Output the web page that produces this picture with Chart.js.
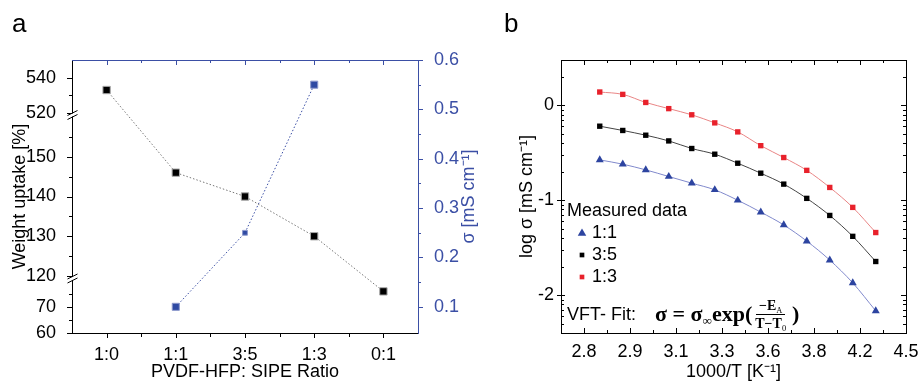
<!DOCTYPE html>
<html>
<head>
<meta charset="utf-8">
<title>Uptake and conductivity</title>
<script src="https://cdn.jsdelivr.net/npm/chart.js@4.4.1/dist/chart.umd.min.js"></script>
<style>
  body { margin: 0; background: #fff; }
  #wrap { position: relative; width: 921px; height: 381px; overflow: hidden;
          font-family: 'Liberation Sans', Arial, sans-serif; color: #000; }
  canvas { position: absolute; top: 0; }
  #chartA { left: 0; }
  #chartB { left: 485px; }
  .letter { position: absolute; top: 8px; font-size: 26px; line-height: 30px; }
  .note { position: absolute; font-size: 18px; line-height: 20px; white-space: nowrap; }
  #vft { position: absolute; left: 655px; top: 298px; height: 32px; display: flex; align-items: center;
         font: bold 22px 'Liberation Serif', 'DejaVu Serif', serif; white-space: nowrap; }
  #vft sub { font-size: 0.6em; vertical-align: -0.3em; line-height: 0; font-weight: normal; }
  .frac { display: inline-flex; flex-direction: column; align-items: center;
          font-size: 14px; margin: 0 6px 0 3px; line-height: 15px; }
  .frac .num { border-bottom: 1px solid #000; padding: 0 3px 1px; }
  .frac .den { padding-top: 1px; }
</style>
</head>
<body>
<div id="wrap">
  <canvas id="chartA" width="485" height="381"></canvas>
  <canvas id="chartB" width="436" height="381"></canvas>
  <div class="letter" style="left:12px;">a</div>
  <div class="letter" style="left:504px;">b</div>
  <div class="note" style="left:567px; top:304px;">VFT- Fit:</div>
  <div id="vft">
    <span>σ = σ<sub>∞</sub>exp(</span>
    <span class="frac"><span class="num">−E<sub>A</sub></span><span class="den">T−T<sub>0</sub></span></span>
    <span>)</span>
  </div>
</div>
<script>
// ---- panel a: weight uptake and conductivity vs. blend ratio
const ratios = ['1:0', '1:1', '3:5', '1:3', '0:1'];
const uptake = [533, 146, 140, 130, 76];
const conductivity = [null, 0.10, 0.25, 0.55, null];
const uptakeTicks = [60, 70, 120, 130, 140, 150, 520, 540];
const uptakeMinorTicks = [65, 75, 125, 135, 145, 155, 530];
const sigmaTicks = [0.1, 0.2, 0.3, 0.4, 0.5, 0.6];
const sigmaMinorTicks = [0.15, 0.25, 0.35, 0.45, 0.55];

// ---- panel b: log conductivity vs. temperature (°C), VFT behaviour
const tempsC = [80, 70, 60, 50, 40, 30, 20, 10, 0, -10, -20, -30, -40];
const log11 = [-0.575, -0.62, -0.68, -0.75, -0.82, -0.89, -1.0, -1.125, -1.26, -1.43, -1.63, -1.87, -2.165];
const log35 = [-0.22, -0.265, -0.315, -0.375, -0.455, -0.515, -0.61, -0.715, -0.83, -0.98, -1.16, -1.38, -1.645];
const log13 = [0.14, 0.115, 0.03, -0.035, -0.10, -0.185, -0.28, -0.425, -0.55, -0.685, -0.865, -1.075, -1.34];
const invTTickTemps = [360, 340, 320, 300, 280, 260, 240, 220];   // K
const invTTickLabels = ['2.8', '2.9', '3.1', '3.3', '3.6', '3.8', '4.2', '4.5'];
const logTicks = [0, -1, -2];
const logTickLabels = ['0', '-1', '-2'];

const BLUE = '#3b4fa5';
const FONT = "18px 'Liberation Sans', Arial, sans-serif";
Chart.defaults.font.family = "'Liberation Sans', Arial, sans-serif";
Chart.defaults.font.size = 18;
Chart.defaults.color = '#000';

// uptake axis is cut into three pieces: value range -> fraction of axis height
const uptakeSegments = [
  { min: 60, max: 80, from: 0, to: 0.1905 },
  { min: 120, max: 160, from: 0.2088, to: 0.7912 },
  { min: 520, max: 550, from: 0.8059, to: 1 }
];

class BrokenLinearScale extends Chart.LinearScale {
  static id = 'brokenLinear';
  static defaults = {};
  getPixelForValue(value) {
    if (value === null || value === undefined) return NaN;
    let seg = uptakeSegments[uptakeSegments.length - 1];
    for (const s of uptakeSegments) { if (value <= s.max) { seg = s; break; } }
    const f = seg.from + (value - seg.min) / (seg.max - seg.min) * (seg.to - seg.from);
    return this.bottom - f * (this.bottom - this.top);
  }
  getValueForPixel(pixel) {
    const f = (this.bottom - pixel) / (this.bottom - this.top);
    const seg = uptakeSegments.find(s => f <= s.to) || uptakeSegments[uptakeSegments.length - 1];
    return seg.min + (f - seg.from) / (seg.to - seg.from) * (seg.max - seg.min);
  }
}
Chart.register(BrokenLinearScale);

function tickList(major, labels, minor) {
  return major.map((v, i) => ({ value: v, text: labels[i] }))
    .concat(minor.map(v => ({ value: v, minor: true })));
}
const tickText = (v, i, ticks) => ticks[i].text || '';

// short tick marks on one edge of the plot frame; len = [outside, inside]
function strokeTicks(chart, scaleId, edge, majorLen, minorLen, color, extra) {
  const scale = chart.scales[scaleId];
  const a = chart.chartArea;
  const ctx = chart.ctx;
  const items = scale.ticks.map(t => ({ p: scale.getPixelForValue(t.value), minor: !!t.minor }));
  (extra || []).forEach(v => items.push({ p: scale.getPixelForValue(v), minor: true }));
  ctx.save();
  ctx.strokeStyle = color;
  ctx.lineWidth = 1;
  ctx.beginPath();
  for (const it of items) {
    const [o, n] = it.minor ? minorLen : majorLen;
    const p = Math.round(it.p) + 0.5;
    if (edge === 'bottom') { ctx.moveTo(p, a.bottom + o); ctx.lineTo(p, a.bottom - n); }
    else if (edge === 'top') { ctx.moveTo(p, a.top - o); ctx.lineTo(p, a.top + n); }
    else if (edge === 'left') { ctx.moveTo(a.left - o, p); ctx.lineTo(a.left + n, p); }
    else { ctx.moveTo(a.right + o, p); ctx.lineTo(a.right - n, p); }
  }
  ctx.stroke();
  ctx.restore();
}

function hLine(ctx, x0, x1, y, color) {
  ctx.save();
  ctx.strokeStyle = color; ctx.lineWidth = 1;
  ctx.beginPath(); ctx.moveTo(x0, Math.round(y) + 0.5); ctx.lineTo(x1, Math.round(y) + 0.5); ctx.stroke();
  ctx.restore();
}
function vLine(ctx, x, y0, y1, color) {
  ctx.save();
  ctx.strokeStyle = color; ctx.lineWidth = 1;
  ctx.beginPath(); ctx.moveTo(Math.round(x) - 0.5, y0); ctx.lineTo(Math.round(x) - 0.5, y1); ctx.stroke();
  ctx.restore();
}

const frameA = {
  id: 'frameA',
  afterDraw(chart) {
    const ctx = chart.ctx;
    const a = chart.chartArea;
    const y = chart.scales.y;
    hLine(ctx, a.left, a.right + 1, a.top, BLUE);
    strokeTicks(chart, 'x', 'bottom', [5, 0], [4, 0], '#000', [0.5, 1.5, 2.5, 3.5]);
    strokeTicks(chart, 'x', 'top', [0, 5], [0, 3], BLUE, [0.5, 1.5, 2.5, 3.5]);
    strokeTicks(chart, 'y', 'left', [5, 0], [3, 0], '#000');
    strokeTicks(chart, 'y1', 'right', [5, 0], [3, 0], BLUE);

    // break marks on the uptake axis
    const x = Math.round(a.left) + 0.5;
    [(y.getPixelForValue(80) + y.getPixelForValue(120)) / 2,
     (y.getPixelForValue(160) + y.getPixelForValue(520)) / 2].forEach(yc => {
      ctx.save();
      ctx.fillStyle = '#fff';
      ctx.beginPath();
      ctx.moveTo(x - 6, yc + 1.5); ctx.lineTo(x + 6, yc - 4.5);
      ctx.lineTo(x + 6, yc - 1.5); ctx.lineTo(x - 6, yc + 4.5);
      ctx.closePath(); ctx.fill();
      ctx.strokeStyle = '#000'; ctx.lineWidth = 1;
      ctx.beginPath();
      ctx.moveTo(x - 5, yc + 0.5); ctx.lineTo(x + 5, yc - 4.5);
      ctx.moveTo(x - 5, yc + 4.5); ctx.lineTo(x + 5, yc - 0.5);
      ctx.stroke();
      ctx.restore();
    });

    // conductivity axis title, reading upwards
    ctx.save();
    ctx.translate(chart.width - 16, (a.top + a.bottom) / 2);
    ctx.rotate(-Math.PI / 2);
    ctx.fillStyle = BLUE;
    ctx.font = FONT;
    ctx.textAlign = 'center';
    ctx.textBaseline = 'middle';
    ctx.fillText('σ [mS cm⁻¹]', 0, 0);
    ctx.restore();
  }
};

new Chart(document.getElementById('chartA'), {
  type: 'line',
  data: {
    labels: ratios,
    datasets: [
      {
        label: 'Weight uptake',
        data: uptake,
        yAxisID: 'y',
        borderColor: '#777',
        borderWidth: 1,
        borderDash: [1.5, 2],
        pointStyle: 'rect',
        pointRadius: 5.2,
        pointBackgroundColor: '#000',
        pointBorderColor: '#aaa',
        pointBorderWidth: 1
      },
      {
        label: 'σ',
        data: conductivity,
        yAxisID: 'y1',
        borderColor: BLUE,
        borderWidth: 1,
        borderDash: [1.5, 2],
        pointStyle: 'rect',
        pointRadius: [0, 5, 3.4, 5, 0],
        pointBackgroundColor: '#2f4aa3',
        pointBorderColor: '#8c98cc',
        pointBorderWidth: 1
      }
    ]
  },
  options: {
    responsive: false,
    animation: false,
    layout: { padding: { top: 60 } },
    plugins: { legend: { display: false }, tooltip: { enabled: false } },
    scales: {
      x: {
        type: 'category',
        position: 'bottom',
        offset: true,
        grid: { display: false },
        border: { color: '#000', width: 1 },
        ticks: { padding: 3, maxRotation: 0, autoSkip: false },
        title: { display: true, text: 'PVDF-HFP: SIPE Ratio', padding: { top: 0, bottom: -2 } },
        afterFit: s => { s.height = 48; }
      },
      y: {
        type: 'brokenLinear',
        position: 'left',
        min: 60,
        max: 550,
        grid: { display: false },
        border: { color: '#000', width: 1 },
        ticks: { padding: 8, autoSkip: false, callback: tickText },
        afterBuildTicks: s => { s.ticks = tickList(uptakeTicks, uptakeTicks.map(String), uptakeMinorTicks); },
        title: { display: true, text: 'Weight uptake [%]', padding: { top: 9, bottom: 0 } },
        afterFit: s => { s.width = 72; }
      },
      y1: {
        type: 'linear',
        position: 'right',
        min: 0.047,
        max: 0.6,
        grid: { display: false },
        border: { color: BLUE, width: 1 },
        ticks: { color: BLUE, padding: 8, autoSkip: false, callback: tickText },
        afterBuildTicks: s => { s.ticks = tickList(sigmaTicks, sigmaTicks.map(v => v.toFixed(1)), sigmaMinorTicks); },
        afterFit: s => { s.width = 67; }
      }
    }
  },
  plugins: [frameA]
});

// ---- panel b
const legendRows = [
  { text: '1:1', style: 'triangle', color: '#2d44a0' },
  { text: '3:5', style: 'rect', color: '#000' },
  { text: '1:3', style: 'rect', color: '#e8212b' }
];

function marker(ctx, style, x, y, r, color) {
  ctx.fillStyle = color;
  ctx.beginPath();
  if (style === 'triangle') {
    ctx.moveTo(x, y - r);
    ctx.lineTo(x + r * 0.95, y + r * 0.6);
    ctx.lineTo(x - r * 0.95, y + r * 0.6);
    ctx.closePath();
  } else {
    const s = r * Math.SQRT1_2;
    ctx.rect(x - s, y - s, 2 * s, 2 * s);
  }
  ctx.fill();
}

const frameB = {
  id: 'frameB',
  afterDraw(chart) {
    const ctx = chart.ctx;
    const a = chart.chartArea;
    const ys = chart.scales.y;
    hLine(ctx, a.left, a.right + 1, a.top, '#000');
    vLine(ctx, a.right + 1, a.top, a.bottom + 1, '#000');
    strokeTicks(chart, 'x', 'bottom', [0, 5], [0, 3], '#000');
    strokeTicks(chart, 'x', 'top', [0, 5], [0, 3], '#000');
    strokeTicks(chart, 'y', 'left', [4, 4], [0, 3], '#000');
    strokeTicks(chart, 'y', 'right', [0, 5], [0, 3], '#000');

    ctx.save();
    ctx.font = FONT;
    ctx.fillStyle = '#000';
    ctx.textBaseline = 'middle';

    // log σ tick labels, right-aligned against the frame
    ctx.textAlign = 'right';
    logTicks.forEach((v, i) => ctx.fillText(logTickLabels[i], a.left - 7, ys.getPixelForValue(v)));

    // measured-data key inside the plot
    ctx.textAlign = 'left';
    ctx.fillText('Measured data', a.left + 6, 211);
    legendRows.forEach((row, i) => {
      const yy = 233 + i * 22;
      marker(ctx, row.style, a.left + 21, yy, row.style === 'triangle' ? 4.5 : 3.3, row.color);
      ctx.fillStyle = '#000';
      ctx.fillText(row.text, a.left + 31, yy);
    });
    ctx.restore();
  }
};

const seriesB = [
  { label: '1:1', values: log11, style: 'triangle', point: '#2d44a0', line: '#8089cc', radius: 4.6 },
  { label: '3:5', values: log35, style: 'rect', point: '#000', line: '#444', radius: 3.8 },
  { label: '1:3', values: log13, style: 'rect', point: '#e8212b', line: '#e98585', radius: 3.8 }
];

const logMinorTicks = [];
[-3, -2, -1, 0].forEach(d => {
  for (let k = 2; k <= 9; k++) logMinorTicks.push(d + Math.log10(k));
});

new Chart(document.getElementById('chartB'), {
  type: 'scatter',
  data: {
    datasets: seriesB.map(s => ({
      label: s.label,
      data: tempsC.map((t, i) => ({ x: t + 273.15, y: s.values[i] })),
      showLine: true,
      cubicInterpolationMode: 'monotone',
      borderColor: s.line,
      borderWidth: 1,
      pointStyle: s.style,
      pointRadius: s.radius,
      pointBackgroundColor: s.point,
      pointBorderColor: s.point,
      pointBorderWidth: 0
    }))
  },
  options: {
    responsive: false,
    animation: false,
    layout: { padding: { top: 60, right: 15 } },
    plugins: { legend: { display: false }, tooltip: { enabled: false } },
    scales: {
      x: {
        type: 'linear',
        position: 'bottom',
        reverse: true,
        min: 220,
        max: 370,
        grid: { display: false },
        border: { color: '#000', width: 1 },
        ticks: { padding: 0, maxRotation: 0, autoSkip: false, callback: tickText },
        afterBuildTicks: s => {
          s.ticks = tickList(invTTickTemps, invTTickLabels, [350, 330, 310, 290, 270, 250, 230]);
        },
        title: { display: true, text: '1000/T [K⁻¹]', padding: { top: 0, bottom: -2 } },
        afterFit: s => { s.height = 48; }
      },
      y: {
        type: 'linear',
        position: 'left',
        min: Math.log10(0.004),
        max: Math.log10(3),
        grid: { display: false },
        border: { color: '#000', width: 1 },
        ticks: { display: false },
        afterBuildTicks: s => {
          s.ticks = tickList(logTicks, logTickLabels,
            logMinorTicks.filter(v => v > s.min + 0.01 && v < s.max - 0.01));
        },
        title: { display: true, text: 'log σ [mS cm⁻¹]', padding: { top: 31, bottom: 0 } },
        afterFit: s => { s.width = 76; }
      }
    }
  },
  plugins: [frameB]
});
</script>
</body>
</html>
